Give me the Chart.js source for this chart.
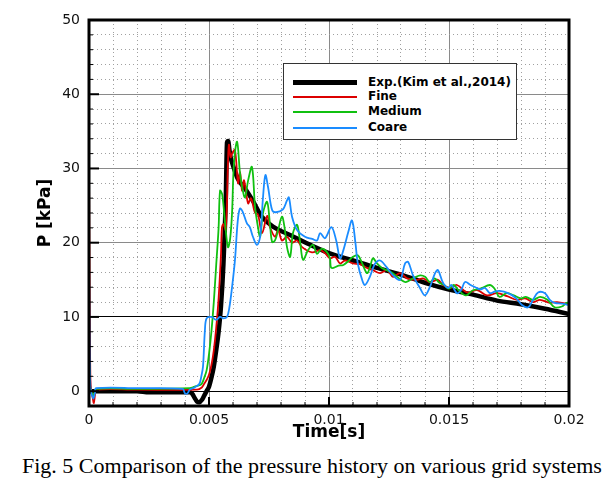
<!DOCTYPE html>
<html lang="en">
<head>
<meta charset="UTF-8">
<title>Pressure history on various grid systems</title>
<script src="https://cdn.jsdelivr.net/npm/chart.js"></script>
<style>
  body { margin: 0; background: #fff; }
  #wrap { position: relative; width: 615px; height: 494px; background: #fff; overflow: hidden; }
  #chartBox { position: absolute; left: 0; top: 0; width: 615px; height: 450px; }
  .legend {
    position: absolute; left: 283px; top: 63px; width: 234px; height: 77px;
    border: 1px solid #333; background: #fff; box-sizing: border-box;
    font: bold 12px "DejaVu Sans", sans-serif; color: #000;
  }
  .legend .item { position: absolute; left: 0; height: 15px; width: 230px; }
  .legend .swatch { position: absolute; left: 9px; width: 64px; }
  .legend .label { position: absolute; left: 84px; top: 0; line-height: 15px; white-space: nowrap; }
  .caption {
    position: absolute; left: 22px; top: 453px; white-space: nowrap; line-height: 26px;
    font: 22px "Liberation Serif", "Times New Roman", serif; color: #000;
  }
</style>
</head>
<body>
<div id="wrap">
  <div id="chartBox"><canvas id="chartTekanan"></canvas></div>
  <div class="legend" id="legend"></div>
  <div class="caption">Fig. 5 Comparison of the pressure history on various grid systems</div>
</div>

<script>
  // data (waktu dalam detik, tekanan dalam kPa)
  const seriesNames = ["Exp.(Kim et al.,2014)", "Fine", "Medium", "Coare"];
  const seriesColors = ["#000000", "#dc0000", "#10c010", "#1a8cff"];

  const expT = [0, 0.002, 0.0025, 0.0042, 0.0043, 0.0044, 0.0045, 0.0046, 0.0047, 0.0048, 0.0049,
    0.0050, 0.0051, 0.0052, 0.0053, 0.0054, 0.0055, 0.0056, 0.0057, 0.00575, 0.0058, 0.00585, 0.0059,
    0.0060, 0.0062, 0.0065, 0.0068, 0.0072, 0.0077, 0.0084, 0.0091, 0.0100, 0.011, 0.012, 0.013,
    0.014, 0.015, 0.016, 0.017, 0.018, 0.019, 0.020];
  const expP = [0, 0, -0.15, -0.15, -0.35, -0.9, -1.4, -1.5, -1.2, -0.6, 0,
    0.6, 1.8, 3.3, 5.5, 8.0, 11.5, 17, 26, 33.5, 33.7, 32.5, 31.5,
    30.4, 28.6, 27.3, 25.8, 23.5, 22.1, 21.0, 19.9, 18.6, 17.6, 16.6, 15.7,
    14.6, 13.7, 13.0, 12.2, 11.7, 11.1, 10.4];

  const fineT = [0, 0.00003, 0.00006, 0.0001, 0.00016, 0.0002, 0.00025, 0.0003, 0.002, 0.0045,
    0.0047, 0.0048, 0.0049, 0.0050, 0.0051, 0.0052, 0.0053, 0.0054, 0.0055, 0.00554, 0.0056, 0.0057,
    0.00579, 0.00583, 0.0059, 0.00596, 0.00608, 0.00621, 0.00629, 0.00638, 0.00646, 0.00663, 0.00675,
    0.00692, 0.00704, 0.00721, 0.00742, 0.00754, 0.00775, 0.00788, 0.00804, 0.00825, 0.00846, 0.00867,
    0.00888, 0.00929, 0.00963, 0.00983, 0.01004, 0.01025, 0.01046, 0.01067, 0.011, 0.01129, 0.01158,
    0.01183, 0.01213, 0.01242, 0.01267, 0.01296, 0.01325, 0.01367, 0.01392, 0.01421, 0.01454, 0.01475,
    0.01504, 0.01533, 0.01575, 0.01617, 0.01658, 0.017, 0.01742, 0.01783, 0.01817, 0.0185, 0.01879,
    0.01921, 0.0195, 0.02];
  const fineP = [30.7, 12, 1.5, 0, -1.0, -1.6, -0.5, 0.2, 0.2, 0.2,
    0.5, 1.0, 1.5, 2.2, 3.5, 5.5, 8.5, 12.5, 18.5, 22, 22.5, 21.7,
    30.7, 33.2, 31.5, 32, 32.5, 28, 29.5, 27, 28.4, 25.3, 26,
    24, 23.8, 21.3, 23.6, 22.1, 20.8, 21.7, 20.3, 20.8, 20.0, 20.3,
    19.4, 18.7, 19, 18.6, 17.9, 18.1, 17.2, 17.6, 17.2, 17.1, 16.6,
    16.3, 15.9, 16.3, 15.4, 15.9, 15.2, 15.0, 15.2, 14.7, 15.0, 14.3,
    13.9, 14.3, 13.3, 13.6, 12.9, 13.2, 12.8, 12.3, 12.5, 12.0, 12.3,
    11.9, 12.0, 11.7];

  const mediumT = [0, 0.00003, 0.00006, 0.00012, 0.0002, 0.0003, 0.002, 0.0042, 0.0044, 0.0046,
    0.0047, 0.0048, 0.0049, 0.0050, 0.0051, 0.0052, 0.0053, 0.0054, 0.00546, 0.00555, 0.00567, 0.00579,
    0.00588, 0.00596, 0.00604, 0.00617, 0.00629, 0.00638, 0.0065, 0.00663, 0.00679, 0.00692, 0.00704,
    0.00713, 0.00725, 0.00742, 0.00754, 0.00763, 0.00775, 0.00788, 0.00804, 0.00815, 0.00825, 0.00838,
    0.0085, 0.00867, 0.0088, 0.00892, 0.00913, 0.00933, 0.0095, 0.0097, 0.0099, 0.01004, 0.0101,
    0.0104, 0.0106, 0.0108, 0.011, 0.0112, 0.01137, 0.01158, 0.0117, 0.01183, 0.012, 0.0122,
    0.0124, 0.0126, 0.0128, 0.0130, 0.0132, 0.0135, 0.0138, 0.0140, 0.0142, 0.0144, 0.0146,
    0.0148, 0.0150, 0.0152, 0.0154, 0.0157, 0.0160, 0.0163, 0.0167, 0.0169, 0.0171, 0.0174,
    0.0177, 0.0180, 0.0182, 0.0185, 0.0188, 0.0191, 0.0194, 0.0197, 0.0199, 0.02];
  const mediumP = [4.6, 1.5, 0.3, -0.3, -0.5, 0.3, 0.3, 0.4, 0.6, 0.8,
    1.0, 1.8, 2.8, 5, 8, 12, 17, 22, 27, 26.5, 22.6, 19.4,
    20.5, 24, 30.7, 33.6, 29.4, 27.5, 26.1, 28.4, 30.2, 24.8, 22.1,
    20.8, 24, 25.5, 22.5, 20.1, 20.3, 21.7, 23.5, 22, 19.4, 18.1,
    21.3, 22.4, 20, 17.7, 19, 19.7, 18.5, 19.2, 18.8, 17.9, 16.6,
    16.9, 17, 17.5, 18.1, 18.3, 17.3, 15.9, 16.6, 17.9, 17.2, 16.6,
    16.3, 16.0, 15.5, 15.0, 14.7, 15.2, 15.6, 15.4, 14.7, 15.2, 14.6,
    14.3, 13.8, 14.3, 13.6, 12.9, 13.6, 13.8, 14.3, 13.8, 12.7, 13.2,
    12.9, 12.5, 12.7, 12.3, 12.7, 12.3, 11.3, 11.4, 11.9, 11.9];

  const coarseT = [0, 0.00003, 0.00006, 0.0001, 0.00018, 0.00025, 0.0003, 0.002, 0.0039, 0.0040,
    0.0041, 0.0042, 0.0044, 0.0046, 0.00468, 0.00475, 0.00483, 0.0049, 0.0051, 0.0053, 0.00546, 0.0056,
    0.00575, 0.00585, 0.00596, 0.00608, 0.0062, 0.00629, 0.0064, 0.00658, 0.0067, 0.00683, 0.007,
    0.00713, 0.00725, 0.00735, 0.00746, 0.00763, 0.00779, 0.00808, 0.00825, 0.00833, 0.00846, 0.00867,
    0.009, 0.0093, 0.0095, 0.00963, 0.00983, 0.0101, 0.0103, 0.01046, 0.0106, 0.0108, 0.01096,
    0.0111, 0.0112, 0.01138, 0.0115, 0.0117, 0.01192, 0.01213, 0.0124, 0.01267, 0.01296, 0.01317,
    0.0133, 0.0135, 0.01379, 0.014, 0.0142, 0.01442, 0.01454, 0.01475, 0.01496, 0.0151, 0.01533,
    0.0155, 0.01567, 0.0159, 0.0161, 0.0163, 0.0165, 0.0167, 0.0169, 0.0171, 0.01746, 0.0178,
    0.01804, 0.0183, 0.0185, 0.01871, 0.019, 0.0192, 0.0194, 0.0197, 0.02];
  const coarseP = [19.4, 5, 0.5, -0.3, -1.0, -0.2, 0.4, 0.4, 0.3, -0.3,
    -0.3, 0.2, 0.5, 1.0, 2, 3.3, 8.2, 9.8, 10, 9.6, 10, 9.8,
    10, 11.3, 14, 17.6, 23, 24.6, 24.2, 22.6, 22.1, 20.8, 19.7,
    20.8, 26.1, 29.1, 27.5, 24.4, 24.1, 24.5, 25.7, 26.1, 23.5, 21.7,
    20.8, 20.5, 20.3, 21.3, 20.6, 22.1, 20.3, 17.9, 19, 21.4, 23,
    20, 17.2, 15, 14.3, 15.4, 17.2, 17.6, 16.7, 15.6, 15, 17.2,
    17.4, 15.6, 13.9, 12.9, 14, 15.9, 16.3, 14.6, 13.9, 14.3, 13.2,
    13.6, 14.7, 14.3, 14, 13.7, 13.9, 13.2, 13.4, 13.5, 13.2, 12.5,
    11.6, 11.3, 12.3, 13.3, 13.2, 12.3, 11.9, 11.8, 11.6];

  // sumbu
  const xMin = 0, xMax = 0.02, xMinorStep = 0.001, xMajorStep = 0.005;
  const yMin = -2, yMax = 50, yMinorStep = 2, yMajorStep = 10;

  const isMajorX = v => Math.abs(Math.round(v / xMajorStep) * xMajorStep - v) < 1e-9;
  const isMajorY = v => Math.abs(Math.round(v / yMajorStep) * yMajorStep - v) < 1e-9 && v >= 0;

  const toPoints = (t, p) => t.map((v, i) => ({ x: v, y: p[i] }));

  // legenda HTML
  const legendTops = [19, 33, 48, 64];
  const swatchWidths = [5, 2, 2, 2];
  const legendEl = document.getElementById("legend");
  seriesNames.forEach((nama, i) => {
    const item = document.createElement("div");
    item.className = "item";
    item.style.top = (legendTops[i] - 8) + "px";
    item.innerHTML = '<div class="swatch" style="top:' + (7.5 - swatchWidths[i] / 2) + 'px;height:' +
      swatchWidths[i] + 'px;background:' + seriesColors[i] + '"></div><span class="label">' + nama + '</span>';
    legendEl.appendChild(item);
  });

  // bingkai tebal dan tick ke dalam
  const bingkai = {
    id: "bingkai",
    afterDatasetsDraw(chart) {
      const { ctx, chartArea: a, scales: { x, y } } = chart;
      ctx.save();
      ctx.strokeStyle = "#000";
      x.ticks.forEach(t => {
        const px = x.getPixelForValue(t.value);
        const major = isMajorX(t.value);
        ctx.lineWidth = major ? 2 : 1;
        ctx.beginPath();
        ctx.moveTo(px, a.bottom);
        ctx.lineTo(px, a.bottom - (major ? 9 : 4));
        ctx.stroke();
      });
      y.ticks.forEach(t => {
        const py = y.getPixelForValue(t.value);
        const major = isMajorY(t.value);
        ctx.lineWidth = major ? 2 : 1;
        ctx.beginPath();
        ctx.moveTo(a.left, py);
        ctx.lineTo(a.left + (major ? 10 : 4), py);
        ctx.stroke();
      });
      ctx.lineWidth = 3;
      ctx.strokeRect(a.left, a.top, a.right - a.left, a.bottom - a.top);
      ctx.restore();
    }
  };

  const garis = (i, data, width, order) => ({
    label: seriesNames[i],
    data,
    borderColor: seriesColors[i],
    backgroundColor: seriesColors[i],
    borderWidth: width,
    pointRadius: 0,
    showLine: true,
    tension: i === 0 ? 0 : 0.35,
    cubicInterpolationMode: i === 0 ? "monotone" : "default",
    order
  });

  new Chart(document.getElementById("chartTekanan"), {
    type: "scatter",
    data: {
      datasets: [
        garis(0, toPoints(expT, expP), 4.5, 3),
        garis(1, toPoints(fineT, fineP), 1.8, 2),
        garis(2, toPoints(mediumT, mediumP), 1.8, 1),
        garis(3, toPoints(coarseT, coarseP), 1.8, 0)
      ]
    },
    options: {
      responsive: true,
      maintainAspectRatio: false,
      animation: false,
      layout: { padding: { left: 0, right: 46, top: 20, bottom: 4 } },
      plugins: { legend: { display: false }, tooltip: { enabled: false } },
      scales: {
        x: {
          type: "linear", min: xMin, max: xMax,
          afterFit: s => { s.height = 40; },
          ticks: {
            stepSize: xMinorStep, autoSkip: false, maxRotation: 0, padding: 6,
            color: "#111", font: { family: "DejaVu Sans", size: 14 },
            callback: v => isMajorX(v) ? String(parseFloat(v.toFixed(3))) : ""
          },
          grid: {
            drawTicks: false,
            color: c => isMajorX(c.tick.value) ? "#8a8a8a" : "#a0a0a0",
            lineWidth: 1
          },
          border: { display: false, dash: c => isMajorX(c.tick.value) ? [] : [1, 3] },
          title: {
            display: true, text: "Time[s]", color: "#000",
            font: { family: "DejaVu Sans", size: 17, weight: "bold" },
            padding: { top: 0, bottom: 3 }
          }
        },
        y: {
          type: "linear", min: yMin, max: yMax,
          afterFit: s => { s.width = 89; },
          ticks: {
            stepSize: yMinorStep, autoSkip: false, padding: 9,
            color: "#111", font: { family: "DejaVu Sans", size: 14 },
            callback: v => isMajorY(v) ? String(v) : ""
          },
          grid: {
            drawTicks: false,
            color: c => {
              const v = c.tick.value;
              if (v === 0 || v === 10) return "#000";
              return isMajorY(v) ? "#8a8a8a" : "#a0a0a0";
            },
            lineWidth: 1
          },
          border: { display: false, dash: c => isMajorY(c.tick.value) ? [] : [1, 3] },
          title: {
            display: true, text: "P [kPa]", color: "#000",
            font: { family: "DejaVu Sans", size: 17, weight: "bold" },
            padding: { top: 35, bottom: 0 }
          }
        }
      }
    },
    plugins: [bingkai]
  });
</script>
</body>
</html>
